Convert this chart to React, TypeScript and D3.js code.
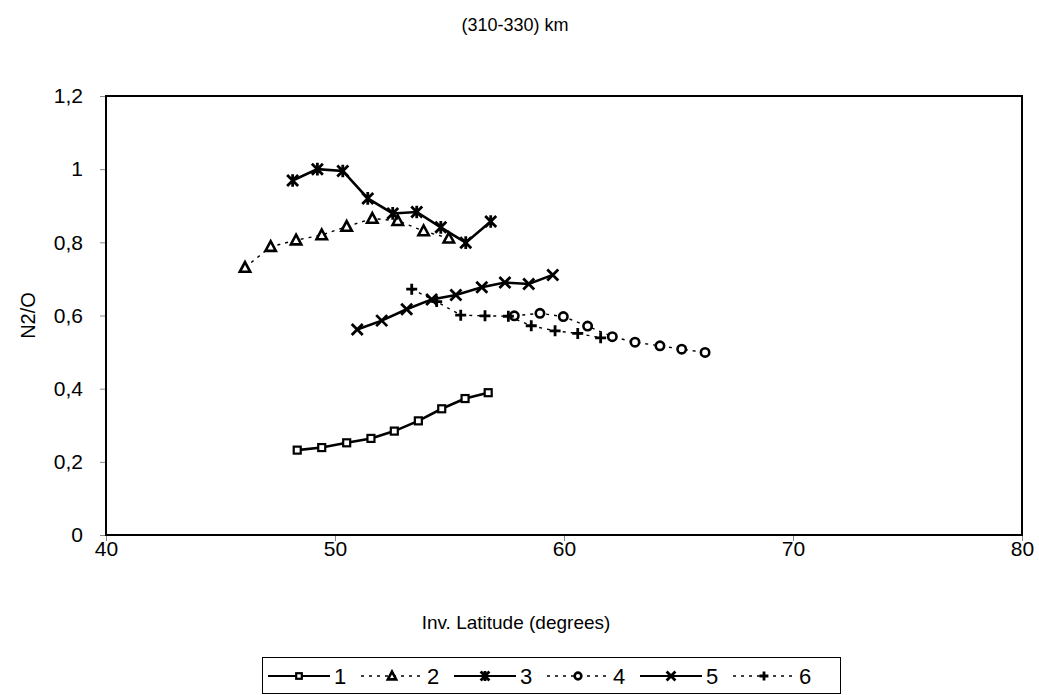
import { useRef, useEffect } from 'react';
import * as d3 from 'd3';

// Inverse latitude (degrees) and N2/O ratio for each series
const lat1 = [48.35, 49.42, 50.51, 51.57, 52.59, 53.64, 54.66, 55.68, 56.69];
const val1 = [0.232, 0.239, 0.252, 0.264, 0.284, 0.312, 0.345, 0.373, 0.389];

const lat2 = [46.07, 47.19, 48.3, 49.42, 50.51, 51.63, 52.74, 53.87, 54.97];
const val2 = [0.731, 0.788, 0.806, 0.82, 0.843, 0.865, 0.859, 0.831, 0.811];

const lat3 = [48.15, 49.23, 50.34, 51.43, 52.52, 53.57, 54.62, 55.71, 56.8];
const val3 = [0.969, 1.0, 0.995, 0.92, 0.879, 0.883, 0.841, 0.799, 0.857];

const lat4 = [57.83, 58.95, 59.97, 61.03, 62.11, 63.1, 64.19, 65.14, 66.16];
const val4 = [0.599, 0.606, 0.597, 0.571, 0.542, 0.527, 0.517, 0.508, 0.499];

const lat5 = [50.97, 52.04, 53.13, 54.22, 55.28, 56.41, 57.42, 58.46, 59.51];
const val5 = [0.562, 0.586, 0.617, 0.644, 0.656, 0.677, 0.69, 0.686, 0.711];

const lat6 = [53.35, 54.44, 55.49, 56.55, 57.57, 58.57, 59.61, 60.6, 61.6];
const val6 = [0.672, 0.638, 0.601, 0.599, 0.598, 0.572, 0.558, 0.551, 0.539];

const xTicks = [40, 50, 60, 70, 80];
const yTicks = [0, 0.2, 0.4, 0.6, 0.8, 1, 1.2];

type Marker = 'square' | 'triangle' | 'star' | 'circle' | 'cross' | 'plus';

const series: { name: string; lat: number[]; val: number[]; marker: Marker; dashed: boolean }[] = [
	{ name: '1', lat: lat1, val: val1, marker: 'square', dashed: false },
	{ name: '2', lat: lat2, val: val2, marker: 'triangle', dashed: true },
	{ name: '3', lat: lat3, val: val3, marker: 'star', dashed: false },
	{ name: '4', lat: lat4, val: val4, marker: 'circle', dashed: true },
	{ name: '5', lat: lat5, val: val5, marker: 'cross', dashed: false },
	{ name: '6', lat: lat6, val: val6, marker: 'plus', dashed: true },
];

const W = 1039;
const H = 695;
const margin = { left: 106, right: 17, top: 96, bottom: 160 };
const FONT = '"Liberation Sans", Arial, sans-serif';

function drawMarker(
	g: d3.Selection<SVGGElement, unknown, null, undefined>,
	type: Marker,
	cx: number,
	cy: number,
	scale = 1,
) {
	const s = scale;
	if (type === 'square') {
		g.append('rect')
			.attr('x', cx - 3.5 * s)
			.attr('y', cy - 3.5 * s)
			.attr('width', 7 * s)
			.attr('height', 7 * s)
			.attr('fill', '#fff')
			.attr('stroke', '#000')
			.attr('stroke-width', 2.2);
	} else if (type === 'triangle') {
		g.append('path')
			.attr('d', `M${cx},${cy - 5.5 * s}L${cx + 5.2 * s},${cy + 4.2 * s}L${cx - 5.2 * s},${cy + 4.2 * s}Z`)
			.attr('fill', '#fff')
			.attr('stroke', '#000')
			.attr('stroke-width', 2.6);
	} else if (type === 'circle') {
		g.append('circle')
			.attr('cx', cx)
			.attr('cy', cy)
			.attr('r', 4.2 * s)
			.attr('fill', '#fff')
			.attr('stroke', '#000')
			.attr('stroke-width', 2.6);
	} else {
		const r = 5.5 * s;
		let d = '';
		if (type === 'cross' || type === 'star') {
			d += `M${cx - r},${cy - r}L${cx + r},${cy + r}M${cx - r},${cy + r}L${cx + r},${cy - r}`;
		}
		if (type === 'plus') {
			d += `M${cx - r},${cy}L${cx + r},${cy}M${cx},${cy - r}L${cx},${cy + r}`;
		}
		if (type === 'star') {
			d += `M${cx},${cy - r * 1.15}L${cx},${cy + r * 1.15}`;
		}
		g.append('path')
			.attr('d', d)
			.attr('fill', 'none')
			.attr('stroke', '#000')
			.attr('stroke-width', 2.8);
	}
}

export default function App() {
	const svgRef = useRef<SVGSVGElement>(null);

	useEffect(() => {
		const svg = d3.select(svgRef.current);
		svg.selectAll('*').remove();

		const x = d3.scaleLinear().domain([40, 80]).range([margin.left, W - margin.right]);
		const y = d3.scaleLinear().domain([0, 1.2]).range([H - margin.bottom, margin.top]);

		// Title
		svg.append('text')
			.attr('x', 515)
			.attr('y', 31)
			.attr('text-anchor', 'middle')
			.attr('font-size', 18)
			.text('(310-330) km');

		// Axes
		const xAxis = svg
			.append('g')
			.attr('transform', `translate(0,${y(0)})`)
			.call(d3.axisBottom(x).tickValues(xTicks).tickSize(6).tickPadding(0).tickFormat(d3.format('d')));
		xAxis.select('.domain').remove();
		xAxis.selectAll('line').attr('stroke', '#888');
		xAxis.selectAll('text').attr('font-size', 21).attr('font-family', FONT).attr('fill', '#000');

		const yAxis = svg
			.append('g')
			.attr('transform', `translate(${x(40)},0)`)
			.call(
				d3
					.axisLeft(y)
					.tickValues(yTicks)
					.tickSize(6)
					.tickPadding(17)
					.tickFormat((d) => (d === 0 ? '0' : String(+d).replace('.', ','))),
			);
		yAxis.select('.domain').remove();
		yAxis.selectAll('line').attr('stroke', '#888');
		yAxis.selectAll('text').attr('font-size', 21).attr('font-family', FONT).attr('fill', '#000');

		// Plot border
		svg.append('rect')
			.attr('x', x(40))
			.attr('y', y(1.2))
			.attr('width', x(80) - x(40))
			.attr('height', y(0) - y(1.2))
			.attr('fill', 'none')
			.attr('stroke', '#000')
			.attr('stroke-width', 2);

		// Axis titles
		svg.append('text')
			.attr('x', 516)
			.attr('y', 629)
			.attr('text-anchor', 'middle')
			.attr('font-size', 19)
			.text('Inv. Latitude (degrees)');

		svg.append('text')
			.attr('transform', `translate(35,${(y(0) + y(1.2)) / 2}) rotate(-90)`)
			.attr('text-anchor', 'middle')
			.attr('font-size', 20)
			.text('N2/O');

		// Series
		const line = d3
			.line<[number, number]>()
			.x((d) => x(d[0]))
			.y((d) => y(d[1]));

		series.forEach((s) => {
			const pts = s.lat.map((v, i) => [v, s.val[i]] as [number, number]);
			svg.append('path')
				.attr('d', line(pts))
				.attr('fill', 'none')
				.attr('stroke', '#000')
				.attr('stroke-width', s.dashed ? 1.4 : 2.6)
				.attr('stroke-dasharray', s.dashed ? '3,5' : null);
			const mg = svg.append('g');
			pts.forEach((p) => drawMarker(mg, s.marker, x(p[0]), y(p[1])));
		});

		// Legend
		const lg = svg.append('g');
		lg.append('rect')
			.attr('x', 262.5)
			.attr('y', 657.5)
			.attr('width', 578)
			.attr('height', 36)
			.attr('fill', '#fff')
			.attr('stroke', '#000')
			.attr('stroke-width', 1);

		series.forEach((s, i) => {
			const x0 = 268 + i * 93;
			const ly = 676;
			lg.append('line')
				.attr('x1', x0)
				.attr('x2', x0 + 62)
				.attr('y1', ly)
				.attr('y2', ly)
				.attr('stroke', '#000')
				.attr('stroke-width', s.dashed ? 1.4 : 2.2)
				.attr('stroke-dasharray', s.dashed ? '3,5' : null);
			const mg = lg.append('g');
			drawMarker(mg, s.marker, x0 + 31, ly, 0.8);
			lg.append('text')
				.attr('x', x0 + 66)
				.attr('y', ly + 8)
				.attr('font-size', 22)
				.text(s.name);
		});
	}, []);

	return (
		<svg
			ref={svgRef}
			width={W}
			height={H}
			style={{ position: 'absolute', left: 0, top: 0, fontFamily: FONT, display: 'block', background: '#fff' }}
		/>
	);
}
